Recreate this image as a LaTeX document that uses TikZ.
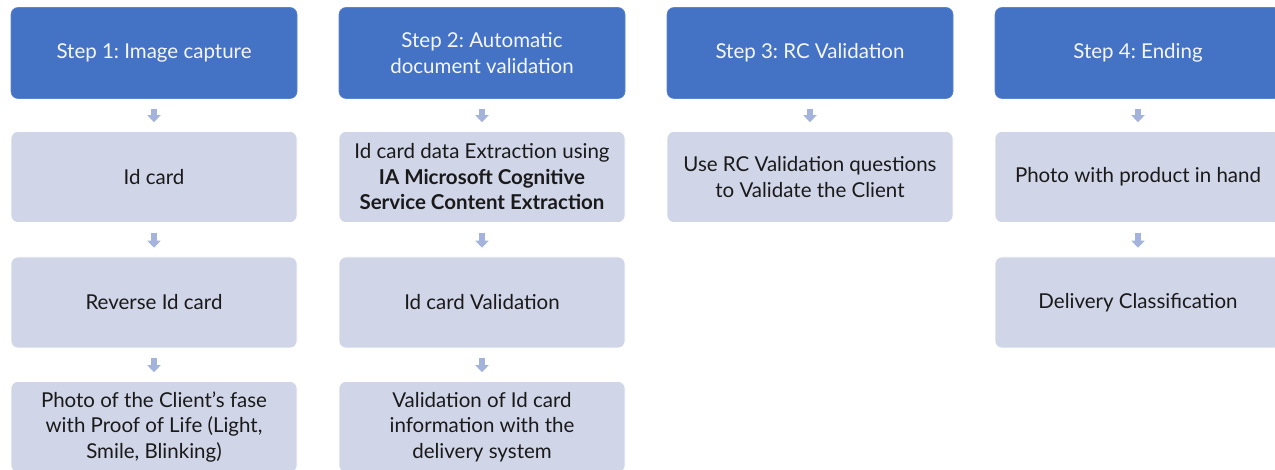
\documentclass[tikz,border=0pt]{standalone}
\usepackage{fontspec}
\setmainfont{Lato}
\frenchspacing
\usetikzlibrary{arrows.meta,calc}
\definecolor{hdr}{HTML}{4472C4}
\definecolor{hdrline}{HTML}{5B85CE}
\definecolor{body}{HTML}{D0D5E8}
\definecolor{arr}{HTML}{A3B3DB}
\definecolor{txt}{HTML}{1A1A1A}
\definecolor{htxt}{HTML}{F4F6FB}
\begin{document}
\begin{tikzpicture}[x=1pt,y=-1pt,
  base/.style={rounded corners=7pt,minimum width=286pt,minimum height=91pt,
    align=center,font=\fontsize{20.5}{25.5}\selectfont,inner sep=2pt},
  hbox/.style={base,fill=hdr,draw=hdrline,line width=0.6pt,text=htxt},
  bbox/.style={base,fill=body,draw=white,line width=0.6pt,text=txt},
  flow/.style={draw=arr,line width=6pt,-{Triangle[width=13pt,length=7pt]},
    shorten <=10pt,shorten >=9pt}]
\useasboundingbox (0,0) rectangle (1275,470);
\clip (0,0) rectangle (1275,470);
\fill[white] (0,0) rectangle (1275,470);
% column 1
\node[hbox] (h1) at (154,53) {Step 1: Image capture};
\node[bbox] (a1) at (154,177) {Id card};
\node[bbox] (a2) at (154,302.5) {Reverse Id card};
\node[bbox] (a3) at (154,427) {Photo of the Client’s fase\\with Proof of Life (Light,\\Smile, Blinking)};
% column 2
\node[hbox] (h2) at (482,53) {Step 2: Automatic\\document validation};
\node[bbox] (b1) at (482,177) {Id card data Extraction using\\\textbf{IA Microsoft Cognitive}\\\textbf{Service Content Extraction}};
\node[bbox] (b2) at (482,302.5) {Id card Validation};
\node[bbox] (b3) at (482,427) {Validation of Id card\\information with the\\delivery system};
% column 3
\node[hbox] (h3) at (810,53) {Step 3: RC Validation};
\node[bbox] (c1) at (810,177) {Use RC Validation questions\\to Validate the Client};
% column 4
\node[hbox] (h4) at (1138,53) {Step 4: Ending};
\node[bbox] (d1) at (1138,177) {Photo with product in hand};
\node[bbox] (d2) at (1138,302.5) {Delivery Classification};
% arrows
\draw[flow] (h1.south) -- (a1.north);
\draw[flow] (a1.south) -- (a2.north);
\draw[flow] (a2.south) -- (a3.north);
\draw[flow] (h2.south) -- (b1.north);
\draw[flow] (b1.south) -- (b2.north);
\draw[flow] (b2.south) -- (b3.north);
\draw[flow] (h3.south) -- (c1.north);
\draw[flow] (h4.south) -- (d1.north);
\draw[flow] (d1.south) -- (d2.north);
\end{tikzpicture}
\end{document}
